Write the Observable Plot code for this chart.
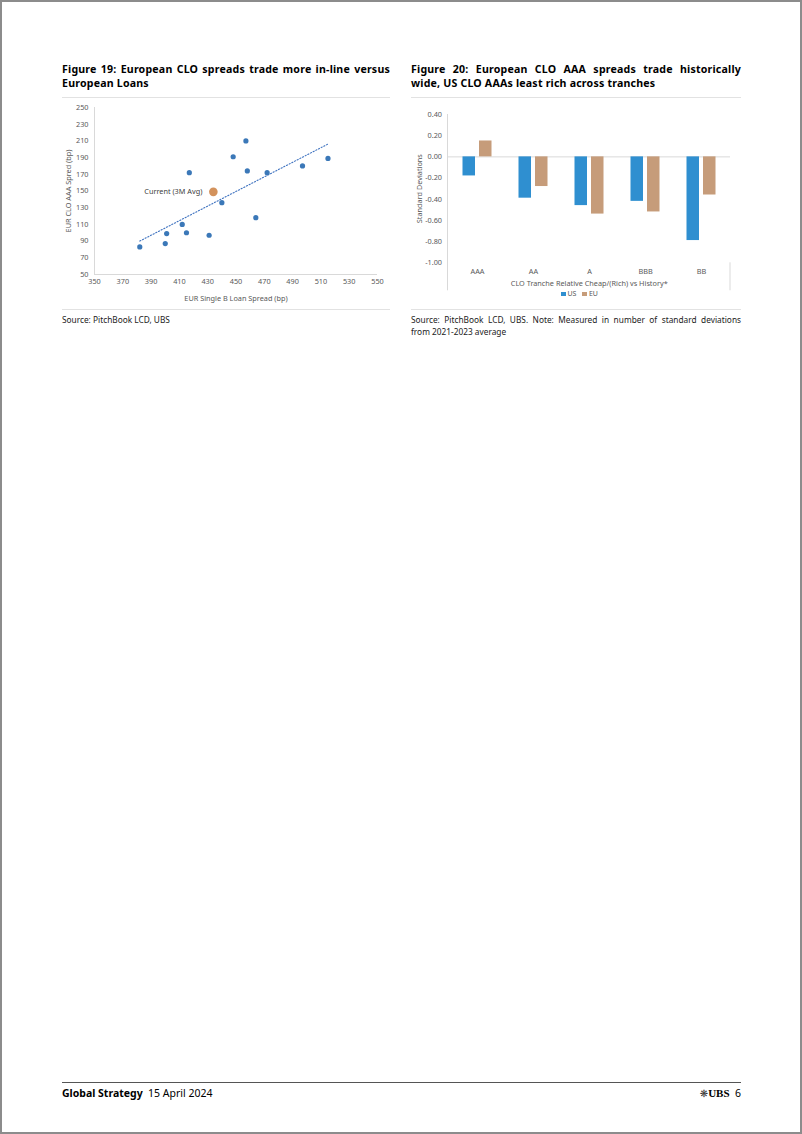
<!DOCTYPE html>
<html><head><meta charset="utf-8">
<script src="https://cdn.jsdelivr.net/npm/d3@7"></script>
<script src="https://cdn.jsdelivr.net/npm/@observablehq/plot@0.6"></script>
<style>
html,body{margin:0;padding:0;background:#fff;}
#page{position:relative;width:802px;height:1134px;overflow:hidden;font-family:"Noto Sans",sans-serif;color:#000;}
#border{position:absolute;left:0;top:0;width:798px;height:1130px;border:2px solid #8c8c8c;}
.title{position:absolute;font-weight:bold;font-size:10.6px;line-height:13.6px;letter-spacing:0.2px;}
.jl{text-align:justify;text-align-last:justify;}
.sep{position:absolute;height:0;border-top:1px solid #e2e2e2;}
.src{position:absolute;font-size:8.3px;line-height:12px;color:#222;}
.chart{position:absolute;}
.legend{position:absolute;font-family:"Noto Sans",sans-serif;font-size:7px;color:#595959;display:flex;align-items:center;gap:6px;}
.legend span.sw{display:inline-block;width:4.5px;height:4.5px;margin-right:2px;vertical-align:middle;}
</style></head>
<body>
<div id="page">
  <div id="border"></div>
  <div class="title" style="left:62px;top:63px;width:328px;">
    <div class="jl">Figure 19: European CLO spreads trade more in-line versus</div>
    <div>European Loans</div>
  </div>
  <div class="sep" style="left:62px;top:97px;width:328px;"></div>
  <div id="leftChart" class="chart" style="left:62px;top:100px;"></div>
  <div class="sep" style="left:62px;top:309px;width:328px;"></div>
  <div class="src" style="left:62px;top:314px;width:330px;">Source: PitchBook LCD, UBS</div>

  <div class="title" style="left:411px;top:63px;width:330px;">
    <div class="jl">Figure 20: European CLO AAA spreads trade historically</div>
    <div>wide, US CLO AAAs least rich across tranches</div>
  </div>
  <div class="sep" style="left:411px;top:97px;width:330px;"></div>
  <div id="rightChart" class="chart" style="left:405px;top:100px;"></div>
  <div id="legend" class="legend" style="left:561px;top:289px;"></div>
  <div class="sep" style="left:411px;top:309px;width:330px;"></div>
  <div class="src" style="left:411px;top:314px;width:330px;">
    <div class="jl">Source: PitchBook LCD, UBS. Note: Measured in number of standard deviations</div>
    <div>from 2021-2023 average</div>
  </div>

  <div style="position:absolute;left:62px;top:1082px;width:679px;border-top:1px solid #555;"></div>
  <div style="position:absolute;left:62px;top:1086px;font-size:10.5px;white-space:nowrap;"><b>Global Strategy</b>&nbsp;&nbsp;15 April 2024</div>
  <div style="position:absolute;right:61px;top:1086px;font-size:10.5px;white-space:nowrap;"><span style="font-family:'DejaVu Sans';font-size:10px;color:#333;">❋</span><span style="font-family:'Liberation Serif';font-weight:bold;font-size:11px;">UBS</span>&nbsp;&nbsp;6</div>
</div>
<script>
// ---- Figure 19 data ----
const loanSpread = [382, 400, 401, 412, 415, 417, 431, 440, 448, 457, 458, 464, 472, 497, 515];
const cloSpread  = [83, 87, 99, 110, 100, 172, 97, 136, 191, 210, 174, 118, 172, 180, 189];
const currentLabel = ["Current (3M Avg)"];
const currentLoan = [434];
const currentClo = [149];
const loanTicks = [350, 370, 390, 410, 430, 450, 470, 490, 510, 530, 550];
const cloTicks = [50, 70, 90, 110, 130, 150, 170, 190, 210, 230, 250];

// ---- Figure 20 data ----
const tranches = ["AAA", "AA", "A", "BBB", "BB"];
const usValues = [-0.18, -0.39, -0.46, -0.42, -0.79];
const euValues = [0.15, -0.28, -0.54, -0.52, -0.36];
const seriesNames = ["US", "EU"];
const seriesColors = ["#2f8fd0", "#c69c7a"];
const sdTicks = [0.4, 0.2, 0, -0.2, -0.4, -0.6, -0.8, -1.0];

const hist = loanSpread.map((x, i) => ({x, y: cloSpread[i]}));
const cur = currentLoan.map((x, i) => ({x, y: currentClo[i], label: currentLabel[i]}));

const axisStyle = {fontFamily: "'Noto Sans', sans-serif", fontSize: "7.3px", color: "#595959", background: "transparent", overflow: "visible"};

const left = Plot.plot({
  width: 328, height: 206,
  marginLeft: 32, marginRight: 13, marginTop: 7, marginBottom: 32,
  style: axisStyle,
  x: {domain: [350, 550], ticks: loanTicks, tickSize: 0, tickPadding: 4, label: "EUR Single B Loan Spread (bp)", labelArrow: false, labelAnchor: "center", labelOffset: 26},
  y: {domain: [50, 250], ticks: cloTicks, tickSize: 0, tickPadding: 6, label: "EUR CLO AAA Spred (bp)", labelArrow: false, labelAnchor: "center", labelOffset: 29},
  marks: [
    Plot.ruleX([350], {stroke: "#d9d9d9"}),
    Plot.ruleY([50], {stroke: "#d9d9d9"}),
    Plot.linearRegressionY(hist, {x: "x", y: "y", ci: 0, stroke: "#3f73c0", strokeWidth: 1.1, strokeDasharray: "1.2,1.8"}),
    Plot.dot(hist, {x: "x", y: "y", r: 2.6, fill: "#3b78b8"}),
    Plot.dot(cur, {x: "x", y: "y", r: 4.3, fill: "#d3925c"}),
    Plot.text(cur, {x: "x", y: "y", text: "label", textAnchor: "end", dx: -11, fill: "#404040", fontSize: 7.3})
  ]
});
document.getElementById("leftChart").appendChild(left);

const barData = tranches.flatMap((c, i) => [
  {cat: c, series: seriesNames[0], value: usValues[i]},
  {cat: c, series: seriesNames[1], value: euValues[i]}
]);

const right = Plot.plot({
  width: 340, height: 200,
  marginLeft: 42.5, marginRight: 15, marginTop: 14, marginBottom: 37.7,
  style: axisStyle,
  x: {domain: tranches, padding: 0, tickSize: 0, tickPadding: 6, label: "CLO Tranche Relative Cheap/(Rich) vs History*", labelArrow: false, labelAnchor: "center", labelOffset: 23},
  y: {domain: [-1, 0.4], ticks: sdTicks, tickFormat: d => (Math.abs(d) < 1e-9 ? 0 : d).toFixed(2), tickSize: 0, tickPadding: 6, label: "Standard Deviations", labelArrow: false, labelAnchor: "center", labelOffset: 31},
  color: {domain: seriesNames, range: seriesColors},
  marks: [
    Plot.ruleY([0], {stroke: "#d9d9d9"}),
    Plot.barY(barData.filter(d => d.series === seriesNames[0]), {x: "cat", y: "value", fill: "series", insetLeft: 13.5, insetRight: 30}),
    Plot.barY(barData.filter(d => d.series === seriesNames[1]), {x: "cat", y: "value", fill: "series", insetLeft: 30, insetRight: 13.5})
  ]
});
document.getElementById("rightChart").appendChild(right);

// axis lines of the category axis (Excel-style plot-area edges)
{
  const xr = right.scale("x").range, yr = right.scale("y").range;
  const svg = d3.select(right);
  const yTop = Math.min(...yr), yBot = Math.max(...yr);
  svg.append("line").attr("x1", xr[0]).attr("x2", xr[0]).attr("y1", yTop).attr("y2", yBot + 28).attr("stroke", "#d9d9d9");
  svg.append("line").attr("x1", xr[1]).attr("x2", xr[1]).attr("y1", yBot).attr("y2", yBot + 28).attr("stroke", "#d9d9d9");
}

// legend
const lg = document.getElementById("legend");
seriesNames.forEach((n, i) => {
  const item = document.createElement("span");
  item.innerHTML = `<span class="sw" style="background:${seriesColors[i]}"></span>${n}`;
  lg.appendChild(item);
});
</script>
</body></html>
